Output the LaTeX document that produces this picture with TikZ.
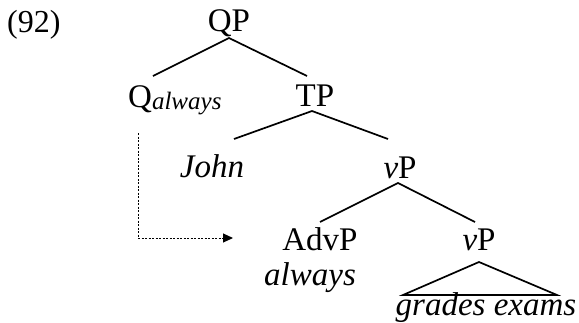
\documentclass[tikz,border=0pt]{standalone}
\usepackage{fontspec}
\setmainfont{Liberation Serif}
\usetikzlibrary{arrows.meta}
\begin{document}
\begin{tikzpicture}[x=1pt,y=-1pt,
  lbl/.style={inner sep=0pt,anchor=base,font=\fontsize{33}{38}\selectfont},
  branch/.style={line width=1.7pt},
  movearrow/.style={line width=1pt,dash pattern=on 2pt off 1.5pt,-{Triangle[length=10pt,width=9pt]}}]
\useasboundingbox (0,0) rectangle (579,322);
% nodes
\node[lbl,anchor=base west,font=\fontsize{32}{36}\selectfont] (ex) at (7,32) {(92)};
\node[lbl] (QP) at (229,31) {QP};
\node[lbl,anchor=base west] (Q) at (128,107) {Q\raisebox{-2pt}{\fontsize{25}{25}\selectfont\textit{always}}};
\node[lbl] (TP) at (315,106) {TP};
\node[lbl] (John) at (212,177) {\textit{John}};
\node[lbl] (vP1) at (400,178) {\textit{v}P};
\node[lbl] (AdvP) at (320,250) {AdvP};
\node[lbl] (alw) at (310,285) {\textit{always}};
\node[lbl] (vP2) at (479,250) {\textit{v}P};
\node[lbl] (ge) at (486,315) {\textit{grades exams}};
% attachment points
\coordinate (QPb) at (229,38);
\coordinate (Qt) at (153,76);
\coordinate (TPt) at (307,76);
\coordinate (TPb) at (312,111);
\coordinate (Johnt) at (234,139);
\coordinate (vPat) at (388,139);
\coordinate (vPab) at (398,183);
\coordinate (AdvPt) at (320,222);
\coordinate (vPbt) at (475,222);
\coordinate (vPbb) at (479,262);
\coordinate (triL) at (403,295);
\coordinate (triR) at (557,295);
\coordinate (mvS) at (138,133);
\coordinate (mvE) at (233,238);
% branches
\draw[branch] (Qt) -- (QPb) -- (TPt);
\draw[branch] (Johnt) -- (TPb) -- (vPat);
\draw[branch] (AdvPt) -- (vPab) -- (vPbt);
\draw[branch,line join=miter] (vPbb) -- (triR) -- (triL) -- cycle;
% movement arrow
\draw[movearrow] (mvS) |- (mvE);
\end{tikzpicture}
\end{document}
